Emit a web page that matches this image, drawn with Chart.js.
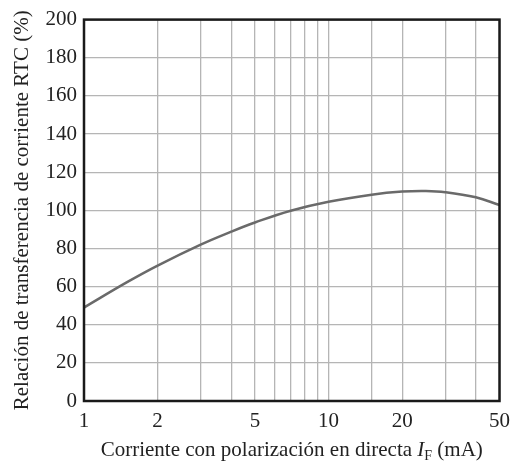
<!DOCTYPE html>
<html>
<head>
<meta charset="utf-8">
<script src="https://cdn.jsdelivr.net/npm/chart.js@4"></script>
<style>
  body { margin: 0; background: #fff; }
</style>
</head>
<body>
<canvas id="myChart" width="518" height="463"></canvas>
<script>
// corriente directa I_F (mA) y relacion RTC (%)
const corriente = [1, 1.5, 2, 3, 4, 5, 7, 10, 15, 20, 25, 30, 40, 50];
const rtc = [49, 62.3, 71, 82, 88.8, 93.6, 99.8, 104.5, 108.2, 109.8, 110.1, 109.5, 106.8, 102.8];
const xLabels = [1, 2, 5, 10, 20, 50];
const yMin = 0, yMax = 200, yStep = 20;

const serif = 'Liberation Serif';

// marco negro alrededor del area del grafico
const frame = {
    id: 'frame',
    afterDatasetsDraw(chart) {
        const a = chart.chartArea;
        const c = chart.ctx;
        c.save();
        c.strokeStyle = '#1a1a1a';
        c.lineWidth = 2.5;
        c.strokeRect(a.left, a.top, a.right - a.left, a.bottom - a.top);
        c.restore();
    }
};

// titulo del eje x con I cursiva y subindice F
const xTitle = {
    id: 'xTitle',
    afterDraw(chart) {
        const c = chart.ctx;
        const a = chart.chartArea;
        const parts = [
            { t: 'Corriente con polarización en directa ', f: '21px "' + serif + '"', dy: 0 },
            { t: 'I', f: 'italic 21px "' + serif + '"', dy: 0 },
            { t: 'F', f: '14px "' + serif + '"', dy: 4 },
            { t: ' (mA)', f: '21px "' + serif + '"', dy: 0 }
        ];
        c.save();
        c.fillStyle = '#222';
        c.textBaseline = 'alphabetic';
        let total = 0;
        parts.forEach(p => { c.font = p.f; p.w = c.measureText(p.t).width; total += p.w; });
        let x = (a.left + a.right) / 2 - total / 2;
        const y = 456;
        parts.forEach(p => {
            c.font = p.f;
            c.fillText(p.t, x, y + p.dy);
            x += p.w;
        });
        c.restore();
    }
};

const data = {
    datasets: [{
        label: 'RTC',
        data: corriente.map((v, i) => ({ x: v, y: rtc[i] })),
        borderColor: '#6a6a6a',
        borderWidth: 2.5,
        pointRadius: 0,
        fill: false,
        tension: 0.4
    }]
};

const config = {
    type: 'line',
    data: data,
    options: {
        responsive: false,
        animation: false,
        devicePixelRatio: 1,
        layout: { padding: { top: 16, right: 9, left: 0, bottom: 0 } },
        plugins: {
            legend: { display: false },
            tooltip: { enabled: false }
        },
        scales: {
            x: {
                type: 'logarithmic',
                min: 1,
                max: 50,
                grid: { color: '#b5b5b5', lineWidth: 1.3, drawTicks: false },
                border: { display: false },
                ticks: {
                    autoSkip: false,
                    maxRotation: 0,
                    padding: 8,
                    color: '#222',
                    font: { family: serif, size: 21 },
                    callback: (v) => xLabels.includes(v) ? String(v) : ''
                },
                afterFit(scale) { scale.height = 62; }
            },
            y: {
                min: yMin,
                max: yMax,
                grid: { color: '#b5b5b5', lineWidth: 1.3, drawTicks: false },
                border: { display: false },
                ticks: {
                    stepSize: yStep,
                    padding: 7,
                    color: '#222',
                    font: { family: serif, size: 21 }
                },
                title: {
                    display: true,
                    text: 'Relación de transferencia de corriente RTC (%)',
                    color: '#222',
                    font: { family: serif, size: 21 },
                    padding: { top: 10, bottom: 0 }
                },
                afterFit(scale) { scale.width = 84; }
            }
        }
    },
    plugins: [frame, xTitle]
};

const ctx = document.getElementById('myChart').getContext('2d');
const myChart = new Chart(ctx, config);
</script>
</body>
</html>
